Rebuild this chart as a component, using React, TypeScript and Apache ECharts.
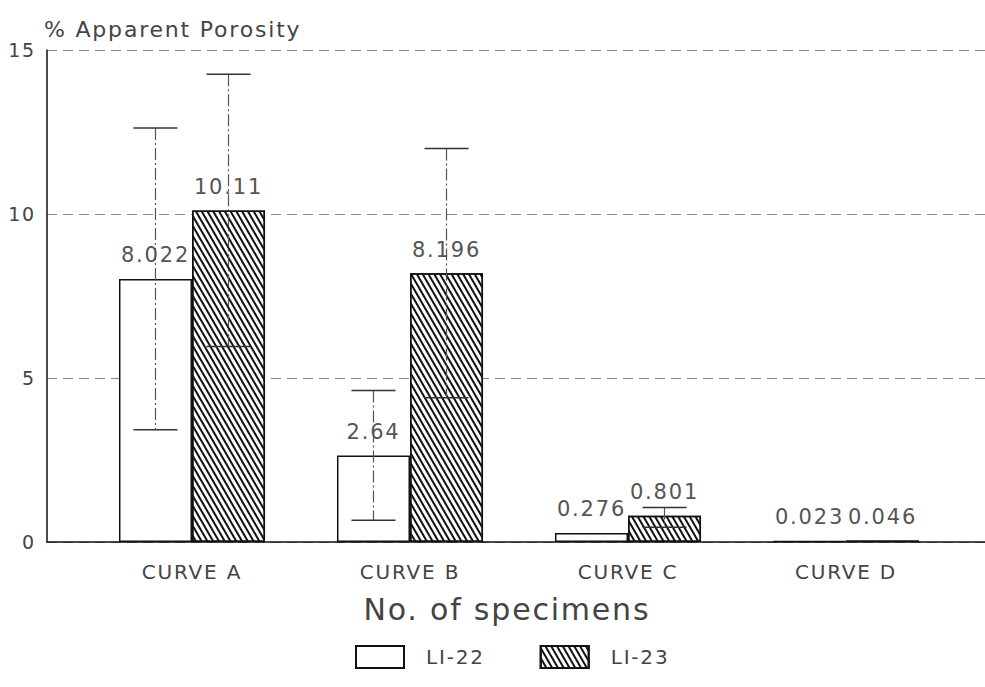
import React, { useEffect, useRef } from "react";
import * as echarts from "echarts";

const categories = ["CURVE A", "CURVE B", "CURVE C", "CURVE D"];
const li22 = [8.022, 2.64, 0.276, 0.023];
const li23 = [10.11, 8.196, 0.801, 0.046];
const li22Err = [4.6, 1.98, 0, 0];
const li23Err = [4.15, 3.8, 0, 0];
const li23ErrUp = [0, 0, 0.25, 0];
const li23ErrDown = [0, 0, 0.35, 0];
const seriesNames = ["LI-22", "LI-23"];
const yMin = 0;
const yMax = 15;
const yStep = 5;

const FONT = "DejaVu Sans";
const BAR_FRAC = 0.335;

export default function App() {
  const ref = useRef<HTMLDivElement>(null);
  useEffect(() => {
    if (!ref.current) return;
    const chart = echarts.init(ref.current, null, { renderer: "svg" });

    const errData: number[][] = [];
    li22.forEach((v, i) => {
      if (li22Err[i] > 0) errData.push([i, v - li22Err[i], v + li22Err[i], 0]);
    });
    li23.forEach((v, i) => {
      const up = li23Err[i] || li23ErrUp[i];
      const down = li23Err[i] || li23ErrDown[i];
      if (up > 0 || down > 0) errData.push([i, v - down, v + up, 1]);
    });

    const labelStyle = {
      show: true,
      position: "top" as const,
      distance: 13,
      fontSize: 21,
      fontFamily: FONT,
      color: "#555",
    };

    chart.setOption({
      animation: false,
      backgroundColor: "#fff",
      textStyle: { fontFamily: FONT },
      title: {
        text: "% Apparent Porosity",
        left: 44,
        top: 18,
        padding: 0,
        textStyle: { fontSize: 22, fontWeight: "normal", color: "#444", fontFamily: FONT },
      },
      legend: {
        data: seriesNames,
        left: 355,
        top: 645,
        padding: 0,
        icon: "rect",
        itemWidth: 48,
        itemHeight: 22,
        itemGap: 64,
        textStyle: { fontSize: 20, color: "#444", fontFamily: FONT, padding: [0, 0, 0, 17] },
      },
      graphic: [
        {
          type: "text",
          left: "center",
          top: 594,
          style: {
            text: "No. of specimens",
            fontSize: 30,
            fontFamily: FONT,
            fill: "#444",
          },
        },
      ],
      grid: [
        { left: 47, right: 0, top: 50, bottom: 145 },
        { left: 83, width: 872, top: 50, bottom: 145 },
      ],
      xAxis: [
        {
          type: "value",
          gridIndex: 0,
          min: 0,
          max: 1,
          axisLine: { show: true, onZero: false, lineStyle: { color: "#111", width: 1.5 } },
          axisTick: { show: false },
          axisLabel: { show: false },
          splitLine: { show: false },
        },
        {
          type: "category",
          gridIndex: 1,
          data: categories,
          axisLine: { show: false },
          axisTick: { show: false },
          axisLabel: { fontSize: 20, color: "#444", margin: 20, fontFamily: FONT },
        },
      ],
      yAxis: [
        {
          type: "value",
          gridIndex: 0,
          min: yMin,
          max: yMax,
          interval: yStep,
          axisLine: { show: true, lineStyle: { color: "#111", width: 1.5 } },
          axisTick: { show: false },
          axisLabel: { fontSize: 19, color: "#444", margin: 11, fontFamily: FONT },
          splitLine: { show: true, lineStyle: { color: "#888", type: [10, 6], width: 1 } },
        },
        {
          type: "value",
          gridIndex: 1,
          min: yMin,
          max: yMax,
          interval: yStep,
          show: false,
          splitLine: { show: false },
        },
      ],
      series: [
        {
          name: seriesNames[0],
          type: "bar",
          xAxisIndex: 1,
          yAxisIndex: 1,
          data: li22,
          barWidth: (BAR_FRAC * 100).toFixed(1) + "%",
          barGap: "0%",
          itemStyle: { color: "#fff", borderColor: "#111", borderWidth: 1.5 },
          label: labelStyle,
        },
        {
          name: seriesNames[1],
          type: "bar",
          xAxisIndex: 1,
          yAxisIndex: 1,
          data: li23,
          barWidth: (BAR_FRAC * 100).toFixed(1) + "%",
          barGap: "0%",
          itemStyle: {
            color: "#fff",
            borderColor: "#111",
            borderWidth: 1.5,
            decal: {
              symbol: "rect",
              symbolSize: 1,
              dashArrayX: [1, 0],
              dashArrayY: [2, 2.5],
              rotation: Math.PI / 3,
              color: "#111",
            },
          },
          label: labelStyle,
        },
        {
          type: "custom",
          xAxisIndex: 1,
          yAxisIndex: 1,
          data: errData,
          z: 5,
          silent: true,
          renderItem: (params: any, api: any) => {
            const cat = api.value(0);
            const lo = api.value(1);
            const hi = api.value(2);
            const side = api.value(3);
            const band = api.size([1, 0])[0];
            const bw = band * BAR_FRAC;
            const cx = api.coord([cat, 0])[0] + (side === 0 ? -bw / 2 : bw / 2);
            const yTop = api.coord([cat, hi])[1];
            const yBot = api.coord([cat, lo])[1];
            const half = 22;
            const capStyle = { stroke: "#333", lineWidth: 1.5 };
            return {
              type: "group",
              children: [
                {
                  type: "line",
                  shape: { x1: cx, y1: yTop, x2: cx, y2: yBot },
                  style: { stroke: "#555", lineWidth: 1.2, lineDash: [12, 3, 2, 3] },
                },
                { type: "line", shape: { x1: cx - half, y1: yTop, x2: cx + half, y2: yTop }, style: capStyle },
                { type: "line", shape: { x1: cx - half, y1: yBot, x2: cx + half, y2: yBot }, style: capStyle },
              ],
            };
          },
        },
      ],
    });
    return () => chart.dispose();
  }, []);

  return (
    <>
      <style>{`#chart-root text { letter-spacing: 1.8px; }`}</style>
      <div
        id="chart-root"
        ref={ref}
        style={{ position: "fixed", left: 0, top: 0, width: 985, height: 687 }}
      />
    </>
  );
}
